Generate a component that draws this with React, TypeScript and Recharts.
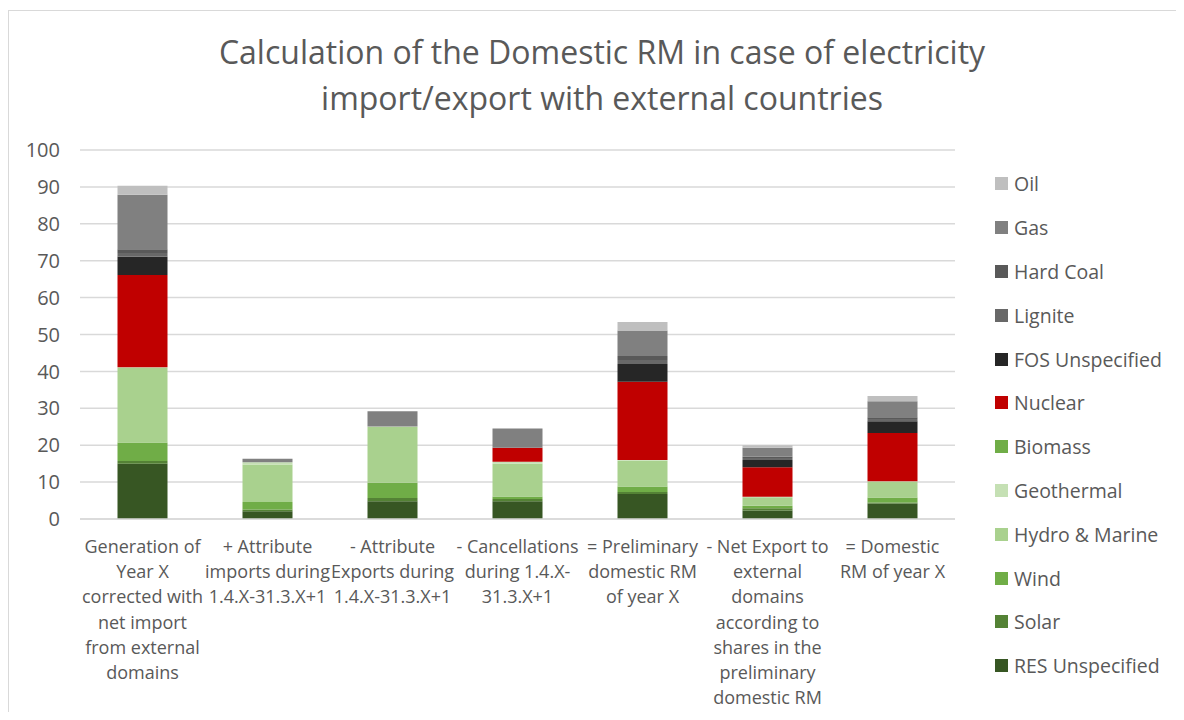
import React from 'react';
import { BarChart, Bar, XAxis, YAxis, CartesianGrid, Legend } from 'recharts';

const categories = [
  'Generation of Year X corrected with net import from external domains',
  '+ Attribute imports during 1.4.X-31.3.X+1',
  '- Attribute Exports during 1.4.X-31.3.X+1',
  '- Cancellations during 1.4.X-31.3.X+1',
  '= Preliminary domestic RM of year X',
  '- Net Export to external domains according to shares in the preliminary domestic RM',
  '= Domestic RM of year X',
];

const tickLines = [
  ['Generation of', 'Year X', 'corrected with', 'net import', 'from external', 'domains'],
  ['+ Attribute', 'imports during', '1.4.X-31.3.X+1'],
  ['- Attribute', 'Exports during', '1.4.X-31.3.X+1'],
  ['- Cancellations', 'during 1.4.X-', '31.3.X+1'],
  ['= Preliminary', 'domestic RM', 'of year X'],
  ['- Net Export to', 'external', 'domains', 'according to', 'shares in the', 'preliminary', 'domestic RM'],
  ['= Domestic', 'RM of year X'],
];

const yTicks = [0, 10, 20, 30, 40, 50, 60, 70, 80, 90, 100];

// stacked bottom -> top
const resUnspecified = [15, 2.1, 4.8, 4.8, 6.8, 2.3, 4.2];
const solar = [0.7, 0.5, 0.9, 0.6, 0.5, 0.6, 0.3];
const wind = [5, 2, 4.1, 0.7, 1.5, 0.7, 1.3];
const hydro = [20.2, 10.2, 15.1, 8.9, 7, 2.3, 4.3];
const geothermal = [0.2, 0.6, 0.2, 0.5, 0.2, 0.1, 0.1];
const biomass = [0, 0, 0, 0, 0, 0, 0];
const nuclear = [25, 0, 0, 3.8, 21.2, 8, 13.1];
const fosUnspecified = [5, 0, 0, 0, 4.8, 2, 3.2];
const lignite = [1, 0, 0, 0, 1.1, 0.5, 0.6];
const hardCoal = [1, 0, 0, 0, 1.1, 0.4, 0.5];
const gas = [14.8, 0.9, 4.1, 5.2, 6.9, 2.4, 4.3];
const oil = [2.4, 0, 0, 0, 2.3, 0.7, 1.4];

const series = [
  { key: 'res', name: 'RES Unspecified', color: '#375623', values: resUnspecified },
  { key: 'solar', name: 'Solar', color: '#548235', values: solar },
  { key: 'wind', name: 'Wind', color: '#70AD47', values: wind },
  { key: 'hydro', name: 'Hydro & Marine', color: '#A9D18E', values: hydro },
  { key: 'geo', name: 'Geothermal', color: '#C5E0B4', values: geothermal },
  { key: 'biomass', name: 'Biomass', color: '#70AD47', values: biomass },
  { key: 'nuclear', name: 'Nuclear', color: '#C00000', values: nuclear },
  { key: 'fos', name: 'FOS Unspecified', color: '#262626', values: fosUnspecified },
  { key: 'lignite', name: 'Lignite', color: '#686868', values: lignite },
  { key: 'hardcoal', name: 'Hard Coal', color: '#595959', values: hardCoal },
  { key: 'gas', name: 'Gas', color: '#808080', values: gas },
  { key: 'oil', name: 'Oil', color: '#BFBFBF', values: oil },
];

const data = categories.map((name, i) => {
  const row: Record<string, any> = { name, idx: i };
  series.forEach((s) => {
    row[s.key] = s.values[i];
  });
  return row;
});

const FONT = '"Open Sans", Lato, sans-serif';
const TEXT = '#595959';

const CategoryTick = (props: any) => {
  const { x, y, payload } = props;
  const lines = tickLines[payload.index] || [payload.value];
  return (
    <text x={x} y={y} textAnchor="middle" fill={TEXT} fontSize={18} fontFamily={FONT}>
      {lines.map((l, i) => (
        <tspan key={i} x={x} dy={i === 0 ? 26 : 25.2}>
          {l}
        </tspan>
      ))}
    </text>
  );
};

const LegendList = () => (
  <div style={{ fontFamily: FONT, fontSize: 19.5, color: TEXT }}>
    {[...series].reverse().map((s) => (
      <div key={s.key} style={{ display: 'flex', alignItems: 'center', height: 43.8 }}>
        <span style={{ width: 13, height: 13, background: s.color, marginRight: 6, display: 'inline-block' }} />
        <span>{s.name}</span>
      </div>
    ))}
  </div>
);

export default function App() {
  return (
    <div style={{ position: 'relative', width: 1168, height: 704, overflow: 'hidden', background: '#fff' }}>
      <div
        style={{
          position: 'absolute',
          left: 0,
          top: 2,
          width: 1300,
          height: 900,
          border: '1px solid #d9d9d9',
        }}
      />
      <div
        style={{
          position: 'absolute',
          left: 0,
          top: 21,
          width: 1188,
          textAlign: 'center',
          fontFamily: FONT,
          fontSize: 32,
          lineHeight: '46px',
          color: TEXT,
          zIndex: 2,
        }}
      >
        Calculation of the Domestic RM in case of electricity
        <br />
        import/export with external countries
      </div>
      <BarChart
        width={1168}
        height={704}
        data={data}
        margin={{ top: 142, right: 221, left: 0, bottom: 0 }}
        barCategoryGap="30%"
      >
        <CartesianGrid vertical={false} stroke="#d9d9d9" strokeWidth={1.5} />
        <XAxis
          dataKey="name"
          height={193}
          interval={0}
          tickLine={false}
          axisLine={{ stroke: '#d9d9d9', strokeWidth: 1.5 }}
          tick={<CategoryTick />}
        />
        <YAxis
          width={72}
          domain={[0, 100]}
          ticks={yTicks}
          tickLine={false}
          axisLine={false}
          tickMargin={14}
          tick={{ fill: TEXT, fontSize: 20, fontFamily: FONT }}
        />
        <Legend
          layout="vertical"
          align="center"
          verticalAlign="middle"
          content={<LegendList />}
          wrapperStyle={{ left: 987, top: 154, width: 190 }}
        />
        {series.map((s) => (
          <Bar key={s.key} dataKey={s.key} name={s.name} stackId="a" fill={s.color} isAnimationActive={false} />
        ))}
      </BarChart>
    </div>
  );
}
